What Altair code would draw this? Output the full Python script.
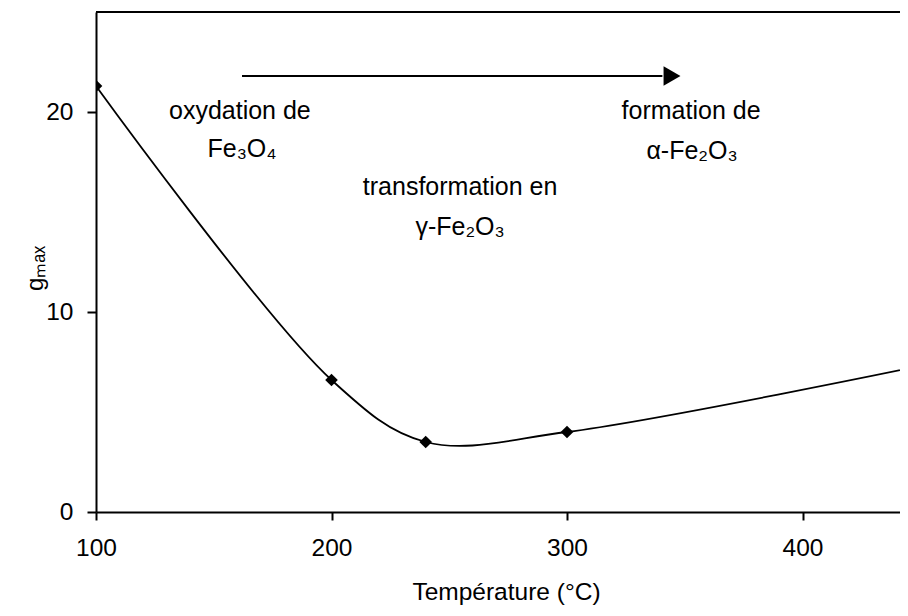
import altair as alt
import pandas as pd

# ---- data ----
temperature = [100, 200, 240, 300, 450]
gmax = [21.3, 6.6, 3.5, 4.0, 7.3]

x_ticks = [100, 200, 300, 400]
y_ticks = [0, 10, 20]

ann_text = ["oxydation de", "Fe₃O₄", "transformation en", "γ-Fe₂O₃", "formation de", "α-Fe₂O₃"]
ann_x = [161.1, 162.0, 254.6, 254.6, 352.7, 353.1]
ann_y = [20.05, 18.15, 16.24, 14.24, 20.05, 18.05]

arrow_start = [162.0]
arrow_end = [340.5]
arrow_level = [21.8]
arrow_head = [344.6]

PLOT_W = 804
X_MAX = 100 + PLOT_W / 2.355
Y_MAX = 25

df = pd.DataFrame({"T": temperature, "g": gmax})
ann = pd.DataFrame({"text": ann_text, "x": ann_x, "y": ann_y})
arr = pd.DataFrame({"x": arrow_start, "x2": arrow_end, "y": arrow_level, "hx": arrow_head})

FONT = "Liberation Sans"

xs = alt.Scale(domain=[100, X_MAX], nice=False, zero=False)
ys = alt.Scale(domain=[0, Y_MAX], nice=False, zero=True)

x_axis = alt.Axis(
    values=x_ticks, title="Température (°C)", grid=False,
    domainColor="black", domainWidth=2, tickColor="black", tickWidth=2, tickSize=8,
    labelFont=FONT, labelFontSize=24.5, labelColor="black", labelPadding=16,
    labelBaseline="top", labelFlush=False,
    titleFont=FONT, titleFontSize=24.5, titleFontWeight="normal", titleColor="black",
    titleX=410, titleY=87, titleAnchor="middle", titleAlign="center", titleBaseline="alphabetic",
)
y_axis = alt.Axis(
    values=y_ticks, title="gₘₐₓ", grid=False,
    domainColor="black", domainWidth=2, tickColor="black", tickWidth=2, tickSize=9,
    labelFont=FONT, labelFontSize=24.5, labelColor="black", labelPadding=14,
    labelBaseline="middle", labelFlush=False,
    titleFont=FONT, titleFontSize=24, titleFontWeight="normal", titleColor="black",
    titleAngle=270, titleX=-61, titleY=256, titleAlign="center", titleBaseline="middle",
)

base = alt.Chart(df)

line = base.mark_line(
    color="black", strokeWidth=1.8, interpolate="catmull-rom", clip=True
).encode(
    x=alt.X("T:Q", scale=xs, axis=x_axis),
    y=alt.Y("g:Q", scale=ys, axis=y_axis),
)

points = base.mark_point(
    shape="diamond", filled=True, color="black", opacity=1, size=160, clip=True
).encode(x=alt.X("T:Q", scale=xs), y=alt.Y("g:Q", scale=ys))

top_border = alt.Chart(pd.DataFrame({"a": [0]})).mark_rule(
    color="black", strokeWidth=2
).encode(x=alt.value(0), x2=alt.value(PLOT_W), y=alt.value(0))

arrow_line = alt.Chart(arr).mark_rule(color="black", strokeWidth=2).encode(
    x=alt.X("x:Q", scale=xs), x2="x2:Q", y=alt.Y("y:Q", scale=ys)
)
arrow_tip = alt.Chart(arr).mark_point(
    shape="triangle-right", filled=True, color="black", opacity=1, size=380
).encode(x=alt.X("hx:Q", scale=xs), y=alt.Y("y:Q", scale=ys))

labels = alt.Chart(ann).mark_text(
    font=FONT, fontSize=25, color="black", align="center", baseline="middle"
).encode(x=alt.X("x:Q", scale=xs), y=alt.Y("y:Q", scale=ys), text="text:N")

chart = alt.layer(line, points, top_border, arrow_line, arrow_tip, labels).properties(
    width=PLOT_W, height=500,
    padding={"left": 88, "top": 4, "right": 0, "bottom": 96},
    autosize=alt.AutoSizeParams(type="none"),
    background="white",
).configure_view(stroke=None)

chart.save("out.html", embed_options={"renderer": "svg", "actions": False})
